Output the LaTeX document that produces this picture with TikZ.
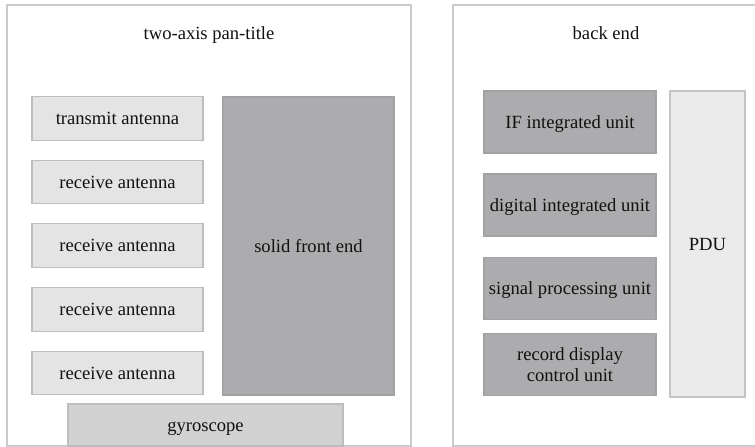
\documentclass[tikz,border=0pt]{standalone}
\usepackage{fontspec}
\setmainfont{Liberation Serif}
\definecolor{panelline}{HTML}{CBCBCB}
\definecolor{lightfill}{HTML}{E4E4E4}
\definecolor{lightline}{HTML}{BDBDBD}
\definecolor{darkfill}{HTML}{ACACAE}
\definecolor{darkline}{HTML}{A2A2A4}
\definecolor{gyrofill}{HTML}{D2D2D3}
\definecolor{gyroline}{HTML}{BDBDBD}
\definecolor{pdufill}{HTML}{EBEBEB}
\definecolor{pduline}{HTML}{C4C4C4}
\definecolor{txt}{HTML}{111111}
\begin{document}
\begin{tikzpicture}[x=1pt,y=-1pt,
  every node/.style={font=\fontsize{18.6}{21.7}\selectfont, text=txt, inner sep=0pt, align=center},
  oneline/.style={text height=15pt, text depth=3pt},
  panel/.style={draw=panelline, line width=1.2pt},
  lightbox/.style={draw=lightline, fill=lightfill, line width=1.2pt, oneline},
  darkbox/.style={draw=darkline, fill=darkfill, line width=1.2pt},
  gyrobox/.style={draw=gyroline, fill=gyrofill, line width=1.2pt, oneline},
  pdubox/.style={draw=pduline, fill=pdufill, line width=1.2pt, oneline}]
\useasboundingbox (0,0) rectangle (755,447);
\clip (0,0) rectangle (755,447);
\fill[white] (0,0) rectangle (755,447);
% panels
\draw[panel] (7,5) rectangle (411,446);
\draw[panel] (453,5) rectangle (780,446);
\node[oneline] (t1) at (209,33) {two-axis pan-title};
\node[oneline] (t2) at (606,33) {back end};
% left panel
\node[lightbox, minimum width=171pt, minimum height=43.5pt] (tx) at (117.5,118.5) {transmit antenna};
\node[lightbox, minimum width=171pt, minimum height=43.5pt] (rx1) at (117.5,182) {receive antenna};
\node[lightbox, minimum width=171pt, minimum height=43.5pt] (rx2) at (117.5,245.5) {receive antenna};
\node[lightbox, minimum width=171pt, minimum height=43.5pt] (rx3) at (117.5,309.5) {receive antenna};
\node[lightbox, minimum width=171pt, minimum height=43.5pt] (rx4) at (117.5,373) {receive antenna};
\node[darkbox, oneline, minimum width=171pt, minimum height=298pt] (sfe) at (308.5,246) {solid front end};
\node[gyrobox, minimum width=275pt, minimum height=42pt] (gyro) at (205.5,425) {gyroscope};
% right panel
\node[darkbox, oneline, minimum width=172pt, minimum height=62pt] (ifu) at (570,122) {IF integrated unit};
\node[darkbox, oneline, minimum width=172pt, minimum height=62pt] (diu) at (570,205) {digital integrated unit};
\node[darkbox, oneline, minimum width=172pt, minimum height=62pt] (spu) at (570,288.5) {signal processing unit};
\node[darkbox, minimum width=172pt, minimum height=62pt] (rdc) at (570,364.5) {record display\\control unit};
\node[pdubox, minimum width=75pt, minimum height=306pt] (pdu) at (707.5,244) {PDU};
\end{tikzpicture}
\end{document}
